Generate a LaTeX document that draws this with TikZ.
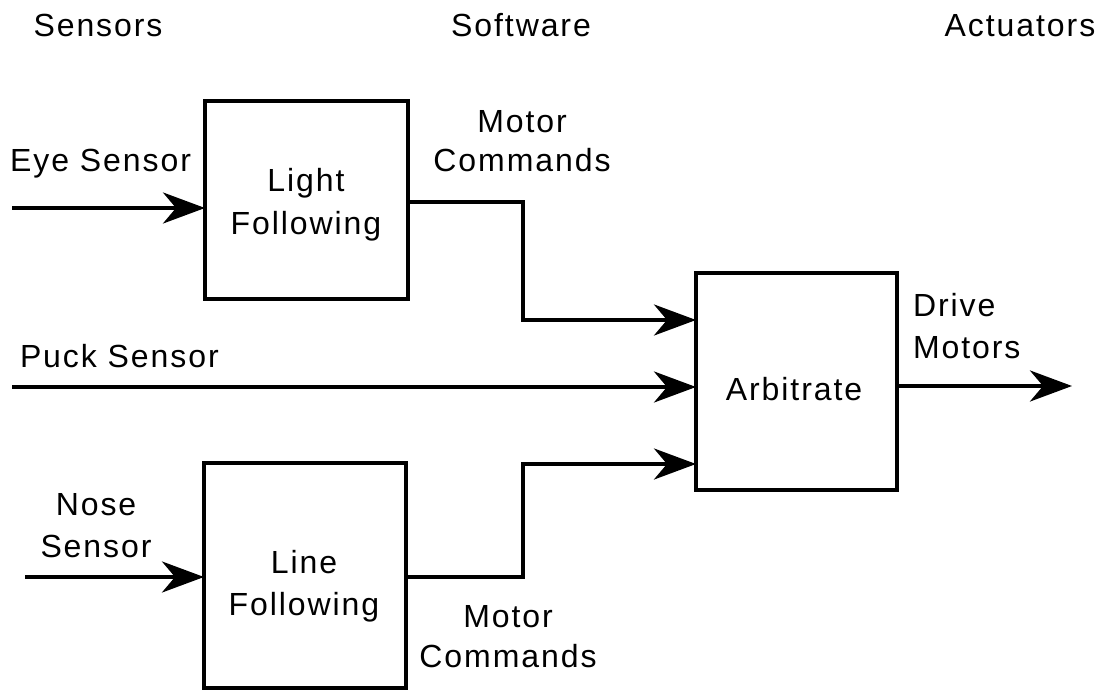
\documentclass[tikz,border=0pt]{standalone}
\usepackage{fontspec}
\setmainfont[LetterSpace=6]{Liberation Sans}
\usetikzlibrary{arrows.meta,calc}

\begin{document}
\begin{tikzpicture}[x=1pt,y=-1pt,
  every node/.style={inner sep=0pt,outer sep=0pt,font=\fontsize{32}{38}\selectfont},
  block/.style={draw,line width=4pt,minimum width=#1,inner sep=0pt},
  lbl/.style={anchor=base},
  flow/.style={line width=4pt,-{Stealth[length=42pt,width=31pt,inset=13pt]}}
]
\useasboundingbox (0,0) rectangle (1113,692);

% column headings
\node[lbl] (hsens) at (98,37) {Sensors};
\node[lbl] (hsoft) at (521,37) {Software};
\node[lbl] (hact)  at (1020,37) {Actuators};

% processing blocks
\node[block=203pt,minimum height=198pt] (lf)  at (306.5,200) {};
\node[block=202pt,minimum height=225pt] (ln)  at (305,575.5) {};
\node[block=201pt,minimum height=217pt] (arb) at (796.5,381.5) {};

% block captions
\node[lbl] (lf1) at (306,192) {Light};
\node[lbl] (lf2) at (306,235) {Following};
\node[lbl] (ln1) at (304,573) {Line};
\node[lbl] (ln2) at (304,615) {Following};
\node[lbl] (arbt) at (794,400) {Arbitrate};

% signal labels
\node[anchor=base east] (eye) at (191,172) {Eye Sensor};
\node[anchor=base west] (puck) at (20,367) {Puck Sensor};
\node[lbl] (nose1) at (96,515) {Nose};
\node[lbl] (nose2) at (96,557) {Sensor};
\node[lbl] (mc1) at (522,133) {Motor};
\node[lbl] (mc2) at (522,172) {Commands};
\node[lbl] (mc3) at (508,627) {Motor};
\node[lbl] (mc4) at (508,667) {Commands};
\node[anchor=base west] (drv1) at (913,317) {Drive};
\node[anchor=base west] (drv2) at (913,358) {Motors};

% connector end points and bends
\coordinate (eyein)  at (12,208);
\coordinate (puckin) at (12,387);
\coordinate (nosein) at (25,577);
\coordinate (lfbend) at (523,202);
\coordinate (lfjoin) at (523,320);
\coordinate (lnbend) at (523,577);
\coordinate (lnjoin) at (523,464);
\coordinate (out)    at (1072,386);

% sensor inputs
\draw[flow] (eyein) -- (eyein -| lf.west);
\draw[flow] (puckin) -- (puckin -| arb.west);
\draw[flow] (nosein) -- (nosein -| ln.west);

% motor commands into the arbiter
\draw[flow] (lfbend -| lf.east) -- (lfbend) -- (lfjoin) -- (lfjoin -| arb.west);
\draw[flow] (lnbend -| ln.east) -- (lnbend) -- (lnjoin) -- (lnjoin -| arb.west);

% drive output
\draw[flow] (out -| arb.east) -- (out);
\end{tikzpicture}
\end{document}
